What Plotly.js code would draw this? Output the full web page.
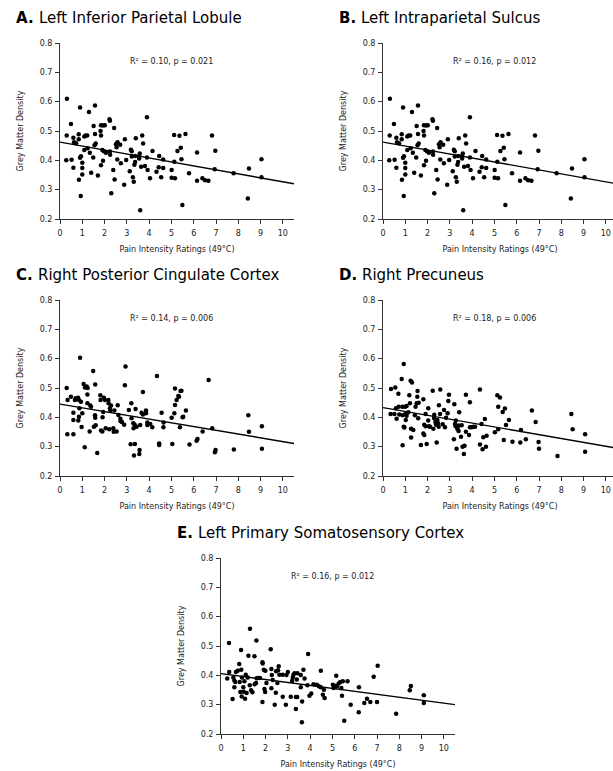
<!DOCTYPE html>
<html>
<head>
<meta charset="utf-8">
<script src="https://cdn.plot.ly/plotly-3.0.1.min.js"></script>
<style>
html,body{margin:0;padding:0;background:#fff;overflow:hidden;width:613px;height:771px;}
#chart{width:625px;height:771px;}
</style>
</head>
<body>
<div id="chart"></div>
<script>
// ---------- DATA ----------
// Panel A: Left Inferior Parietal Lobule (pain rating, grey matter density)
const aX = [0.31,0.30,0.28,0.49,0.52,0.60,0.63,0.60,0.72,0.84,0.84,0.90,0.85,0.93,0.90,0.94,1.0,1.0,1.0,1.09,1.09,1.15,1.22,1.30,1.24,1.34,1.40,1.51,1.49,1.57,1.57,1.55,1.60,1.70,1.82,1.84,1.84,1.84,1.93,1.90,1.93,2.01,1.97,2.06,2.22,2.24,2.24,2.25,2.30,2.39,2.43,2.45,2.51,2.54,2.58,2.57,2.70,2.73,2.91,2.88,2.97,3.13,3.18,3.22,3.22,3.27,3.31,3.34,3.37,3.40,3.37,3.55,3.58,3.60,3.55,3.64,3.69,3.73,3.81,3.90,3.90,3.93,4.04,4.15,4.33,4.45,4.43,4.54,4.63,4.63,5.01,5.01,5.12,5.13,5.16,5.27,5.36,5.42,5.45,5.49,5.63,5.79,6.15,6.15,6.39,6.51,6.66,6.82,6.97,6.94,7.79,8.43,8.48,9.04,9.04];
const aY = [0.610,0.485,0.400,0.524,0.402,0.477,0.462,0.375,0.458,0.472,0.489,0.580,0.334,0.278,0.409,0.414,0.392,0.374,0.352,0.435,0.481,0.485,0.485,0.565,0.441,0.426,0.358,0.517,0.410,0.587,0.490,0.451,0.457,0.348,0.500,0.520,0.485,0.383,0.519,0.435,0.399,0.520,0.431,0.426,0.540,0.535,0.430,0.419,0.288,0.367,0.510,0.335,0.455,0.445,0.462,0.403,0.453,0.390,0.472,0.317,0.401,0.363,0.436,0.431,0.413,0.342,0.327,0.385,0.415,0.475,0.394,0.415,0.423,0.230,0.406,0.378,0.485,0.457,0.381,0.547,0.410,0.367,0.339,0.432,0.361,0.415,0.376,0.342,0.403,0.374,0.367,0.341,0.486,0.395,0.339,0.432,0.484,0.443,0.404,0.248,0.490,0.356,0.427,0.330,0.339,0.332,0.330,0.485,0.433,0.370,0.356,0.270,0.372,0.404,0.342];
const aFitX = [0, 10.5];
const aFitY = [0.462, 0.320];

// Panel B: Left Intraparietal Sulcus
const bX = aX.slice();
const bY = aY.slice();
const bFitX = [0, 10.5];
const bFitY = [0.462, 0.320];

// Panel C: Right Posterior Cingulate Cortex
const cX = [0.30,0.34,0.33,0.49,0.60,0.60,0.60,0.67,0.70,0.81,0.85,0.90,0.82,0.87,0.85,0.94,0.97,1.00,1.06,1.12,1.11,1.20,1.24,1.23,1.23,1.33,1.36,1.39,1.49,1.52,1.58,1.58,1.57,1.60,1.67,1.81,1.82,1.84,1.90,1.94,1.91,1.97,2.02,2.05,2.17,2.18,2.21,2.24,2.26,2.29,2.41,2.39,2.44,2.54,2.59,2.62,2.71,2.72,2.78,2.88,2.94,2.91,3.09,3.17,3.21,3.20,3.29,3.30,3.36,3.39,3.35,3.44,3.32,3.56,3.57,3.60,3.66,3.72,3.72,3.86,3.86,3.92,3.92,4.05,4.14,4.35,4.45,4.45,4.56,4.65,4.64,5.04,5.01,5.13,5.16,5.16,5.23,5.31,5.41,5.38,5.53,5.45,5.34,5.65,5.50,5.81,6.13,6.17,6.40,6.67,6.83,6.95,6.98,7.80,8.45,8.48,9.06,9.06];
const cY = [0.500,0.459,0.342,0.470,0.342,0.416,0.391,0.459,0.465,0.467,0.459,0.603,0.389,0.431,0.402,0.453,0.367,0.414,0.514,0.502,0.298,0.505,0.500,0.478,0.448,0.352,0.440,0.436,0.558,0.368,0.512,0.399,0.407,0.373,0.278,0.475,0.459,0.355,0.352,0.418,0.400,0.467,0.459,0.363,0.459,0.448,0.359,0.431,0.423,0.440,0.351,0.363,0.423,0.352,0.441,0.408,0.395,0.387,0.384,0.375,0.573,0.509,0.425,0.308,0.397,0.448,0.380,0.363,0.309,0.428,0.375,0.368,0.270,0.275,0.289,0.374,0.416,0.486,0.410,0.423,0.414,0.382,0.374,0.377,0.366,0.541,0.311,0.306,0.416,0.382,0.366,0.309,0.399,0.414,0.498,0.442,0.459,0.473,0.490,0.366,0.402,0.491,0.470,0.423,0.400,0.307,0.320,0.326,0.352,0.527,0.363,0.281,0.289,0.290,0.407,0.351,0.370,0.293];
const cFitX = [0, 10.5];
const cFitY = [0.445, 0.311];

// Panel D: Right Precuneus
const dX = [0.36,0.34,0.55,0.51,0.58,0.61,0.69,0.70,0.73,0.84,0.87,0.88,0.93,0.88,0.93,0.96,0.99,1.02,1.06,1.06,1.02,1.14,1.18,1.21,1.24,1.30,1.26,1.26,1.36,1.43,1.46,1.51,1.54,1.55,1.58,1.60,1.70,1.81,1.85,1.81,1.85,1.91,1.96,1.91,2.03,2.03,2.06,2.11,2.23,2.26,2.29,2.30,2.35,2.38,2.41,2.44,2.47,2.51,2.50,2.56,2.57,2.68,2.74,2.78,2.83,2.90,2.93,2.96,3.20,3.18,3.23,3.26,3.27,3.30,3.33,3.35,3.39,3.42,3.39,3.50,3.53,3.57,3.63,3.66,3.72,3.72,3.86,3.90,3.90,3.98,4.05,4.13,4.35,4.35,4.47,4.50,4.57,4.62,4.65,4.42,5.13,5.25,5.17,5.47,5.37,5.65,5.52,5.02,5.17,5.42,5.81,6.16,6.19,6.41,6.68,6.85,6.98,7.00,7.83,8.45,8.51,9.07,9.07];
const dY = [0.497,0.411,0.502,0.411,0.431,0.395,0.480,0.436,0.410,0.531,0.436,0.407,0.582,0.305,0.368,0.365,0.436,0.414,0.439,0.405,0.391,0.417,0.475,0.448,0.525,0.519,0.361,0.331,0.357,0.407,0.436,0.448,0.470,0.490,0.397,0.450,0.306,0.462,0.375,0.345,0.340,0.370,0.309,0.411,0.431,0.389,0.370,0.368,0.491,0.361,0.398,0.409,0.384,0.375,0.314,0.391,0.380,0.441,0.368,0.411,0.495,0.376,0.425,0.366,0.399,0.414,0.456,0.477,0.445,0.325,0.377,0.370,0.389,0.293,0.365,0.359,0.353,0.417,0.372,0.334,0.373,0.300,0.275,0.303,0.477,0.351,0.340,0.451,0.366,0.366,0.368,0.368,0.495,0.307,0.291,0.332,0.394,0.300,0.337,0.377,0.475,0.468,0.436,0.430,0.418,0.391,0.374,0.349,0.359,0.323,0.317,0.314,0.357,0.325,0.423,0.384,0.316,0.293,0.268,0.411,0.359,0.342,0.283];
const dFitX = [0, 10.5];
const dFitY = [0.433, 0.295];

// Panel E: Left Primary Somatosensory Cortex
const eX = [0.28,0.36,0.37,0.52,0.55,0.60,0.60,0.64,0.67,0.75,0.82,0.84,0.87,0.90,0.91,0.94,0.93,1.00,1.02,1.05,1.08,1.11,1.15,1.20,1.23,1.29,1.30,1.35,1.41,1.50,1.51,1.57,1.59,1.60,1.65,1.75,1.86,1.87,1.86,1.92,1.95,1.98,1.99,2.04,2.23,2.26,2.28,2.26,2.32,2.41,2.46,2.47,2.53,2.56,2.59,2.62,2.77,2.77,2.91,2.94,3.00,3.13,3.19,3.22,3.25,3.30,3.36,3.36,3.40,3.42,3.43,3.58,3.58,3.63,3.64,3.70,3.75,3.88,3.91,3.97,4.05,4.15,4.30,4.39,4.48,4.48,4.57,4.62,4.65,5.02,5.05,5.13,5.17,5.20,5.28,5.35,5.40,5.43,5.47,5.53,5.68,5.82,6.18,6.19,6.43,6.55,6.70,6.85,7.00,7.03,7.86,8.47,8.52,9.10,9.10];
const eY = [0.389,0.510,0.411,0.319,0.393,0.382,0.359,0.377,0.411,0.416,0.439,0.377,0.343,0.486,0.419,0.393,0.328,0.359,0.344,0.380,0.320,0.402,0.340,0.393,0.467,0.366,0.559,0.349,0.342,0.465,0.370,0.374,0.519,0.390,0.391,0.391,0.445,0.440,0.309,0.419,0.353,0.343,0.416,0.374,0.489,0.422,0.401,0.356,0.384,0.300,0.341,0.414,0.374,0.417,0.431,0.402,0.402,0.327,0.300,0.401,0.411,0.327,0.381,0.393,0.402,0.407,0.326,0.285,0.386,0.326,0.407,0.359,0.401,0.240,0.311,0.419,0.389,0.366,0.473,0.330,0.338,0.370,0.368,0.363,0.416,0.359,0.334,0.351,0.323,0.368,0.357,0.364,0.399,0.362,0.372,0.377,0.357,0.330,0.380,0.245,0.380,0.300,0.274,0.359,0.306,0.320,0.309,0.395,0.309,0.433,0.269,0.349,0.364,0.332,0.306];
const eFitX = [0, 10.5];
const eFitY = [0.406, 0.300];

const panelLetters = ["A.", "B.", "C.", "D.", "E."];
const panelNames = ["Left Inferior Parietal Lobule", "Left Intraparietal Sulcus", "Right Posterior Cingulate Cortex", "Right Precuneus", "Left Primary Somatosensory Cortex"];
const statTexts = ["R\u00B2 = 0.10, p = 0.021", "R\u00B2 = 0.16, p = 0.012", "R\u00B2 = 0.14, p = 0.006", "R\u00B2 = 0.18, p = 0.006", "R\u00B2 = 0.16, p = 0.012"];
const xTitle = "Pain Intensity Ratings (49°C)";
const yTitle = "Grey Matter Density";
const xTickVals = [0,1,2,3,4,5,6,7,8,9,10];
const yTickVals = [0.2,0.3,0.4,0.5,0.6,0.7,0.8];

// ---------- LAYOUT ----------
const W = 625, H = 771;
const PW = 234, PH = 176;
// left edge and top edge (pixels) of each plot area
const boxes = [[60,43],[383,43],[60,300],[383,300],[221,558]];
const series = [[aX,aY,aFitX,aFitY],[bX,bY,bFitX,bFitY],[cX,cY,cFitX,cFitY],[dX,dY,dFitX,dFitY],[eX,eY,eFitX,eFitY]];
const FONT = "DejaVu Sans, Verdana, sans-serif";
const TITLE_SIZE = 15;
const px = v => v / W;
const py = v => (H - v) / H;

// measure bold letter width so the region name follows it
const ctx = document.createElement("canvas").getContext("2d");
ctx.font = "bold " + TITLE_SIZE + "px 'DejaVu Sans'";

const traces = [];
const layout = {
  width: W, height: H,
  margin: {l:0, r:0, t:0, b:0},
  paper_bgcolor: "#fff", plot_bgcolor: "#fff",
  showlegend: false,
  font: {family: FONT, size: 8, color: "#222"},
  annotations: []
};

boxes.forEach((b, i) => {
  const n = i + 1;
  const xa = n === 1 ? "x" : "x" + n;
  const ya = n === 1 ? "y" : "y" + n;
  const [sx, sy, fx, fy] = series[i];
  traces.push({type: "scatter", mode: "markers", x: sx, y: sy, xaxis: xa, yaxis: ya,
    marker: {color: "#000", size: 4.5}, hoverinfo: "skip", cliponaxis: false});
  traces.push({type: "scatter", mode: "lines", x: fx, y: fy, xaxis: xa, yaxis: ya,
    line: {color: "#000", width: 1.4}, hoverinfo: "skip"});
  const axCommon = {
    showgrid: false, zeroline: false, showline: true, linecolor: "#333", linewidth: 1,
    ticks: "outside", ticklen: 4, tickwidth: 1, tickcolor: "#333", automargin: false,
    tickfont: {family: FONT, size: 8, color: "#222"}, fixedrange: true
  };
  layout["xaxis" + (n === 1 ? "" : n)] = Object.assign({}, axCommon, {
    domain: [px(b[0]), px(b[0] + PW)], anchor: ya, range: [0, 10.5],
    tickmode: "array", tickvals: xTickVals, ticklabelstandoff: 2,
    title: {text: xTitle, font: {family: FONT, size: 8, color: "#222"}, standoff: 9}
  });
  layout["yaxis" + (n === 1 ? "" : n)] = Object.assign({}, axCommon, {
    domain: [py(b[1] + PH), py(b[1])], anchor: xa, range: [0.2, 0.8],
    tickmode: "array", tickvals: yTickVals, tickformat: ".1f", ticklabelstandoff: 1,
    title: {text: yTitle, font: {family: FONT, size: 8, color: "#222"}, standoff: 14}
  });
  // panel title: bold letter + region name
  const tx = b[0] - 46;
  const letterW = ctx.measureText(panelLetters[i] + " ").width;
  layout.annotations.push({xref: "paper", yref: "paper", x: px(tx), y: py(b[1] - 25),
    xanchor: "left", yanchor: "middle", showarrow: false,
    text: panelLetters[i],
    font: {family: FONT, size: TITLE_SIZE, color: "#000", weight: "bold"}});
  layout.annotations.push({xref: "paper", yref: "paper", x: px(tx + letterW), y: py(b[1] - 25),
    xanchor: "left", yanchor: "middle", showarrow: false,
    text: panelNames[i],
    font: {family: FONT, size: TITLE_SIZE, color: "#000"}});
  // stats text
  layout.annotations.push({xref: xa, yref: ya, x: 5, y: 0.738, xanchor: "center", yanchor: "middle",
    showarrow: false, text: statTexts[i], font: {family: FONT, size: 8, color: "#222"}});
});

Plotly.newPlot("chart", traces, layout, {staticPlot: true, displayModeBar: false});
</script>
</body>
</html>
